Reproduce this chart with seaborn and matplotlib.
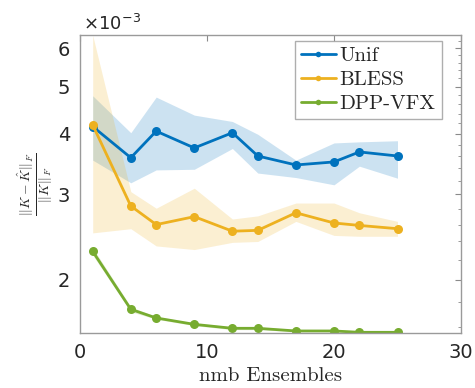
import numpy as np
import pandas as pd
import matplotlib
matplotlib.use('Agg')
import matplotlib.pyplot as plt
import matplotlib.ticker as ticker
import seaborn as sns

# dados (valores em unidades de 1e-3)
ensembles = [1, 4, 6, 9, 12, 14, 17, 20, 22, 25]
methods = ['Unif', 'BLESS', 'DPP-VFX']

unif = [4.14, 3.57, 4.05, 3.74, 4.02, 3.60, 3.45, 3.50, 3.67, 3.60]
unif_low = [3.53, 3.17, 3.37, 3.38, 3.73, 3.32, 3.25, 3.14, 3.43, 3.24]
unif_high = [4.79, 4.02, 4.76, 4.37, 4.24, 3.99, 3.53, 3.83, 3.85, 3.87]

bless = [4.17, 2.84, 2.60, 2.70, 2.52, 2.53, 2.75, 2.62, 2.59, 2.55]
bless_low = [2.50, 2.55, 2.35, 2.31, 2.39, 2.40, 2.64, 2.47, 2.46, 2.46]
bless_high = [6.38, 3.04, 2.81, 3.09, 2.67, 2.71, 2.88, 2.88, 2.75, 2.64]

dpp = [2.29, 1.74, 1.67, 1.62, 1.59, 1.59, 1.57, 1.57, 1.56, 1.56]
dpp_low = [2.25, 1.72, 1.66, 1.61, 1.58, 1.58, 1.565, 1.565, 1.555, 1.555]
dpp_high = [2.33, 1.76, 1.68, 1.63, 1.60, 1.60, 1.58, 1.58, 1.57, 1.57]

colors = {'Unif': '#0072BD', 'BLESS': '#EDB120', 'DPP-VFX': '#77AC30'}

df = pd.DataFrame({
    'ensembles': ensembles * 3,
    'err': unif + bless + dpp,
    'method': ['Unif'] * 10 + ['BLESS'] * 10 + ['DPP-VFX'] * 10,
})

sns.set_style('white')
plt.rcParams['mathtext.fontset'] = 'cm'
plt.rcParams['font.family'] = ['DejaVu Sans']

fig = plt.figure(figsize=(4.75, 3.88), dpi=100)
ax = fig.add_axes([80 / 475, 55 / 388, 381 / 475, 298 / 388])

# faixas
bands = {'Unif': (unif_low, unif_high), 'BLESS': (bless_low, bless_high),
         'DPP-VFX': (dpp_low, dpp_high)}
for m in methods:
    lo, hi = bands[m]
    ax.fill_between(ensembles, lo, hi, color=colors[m], alpha=0.2, linewidth=0)

sns.lineplot(data=df, x='ensembles', y='err', hue='method', palette=colors,
             hue_order=methods, marker='o', markersize=6.5, markeredgewidth=0,
             linewidth=2, errorbar=None, ax=ax)

ax.set_yscale('log')
ax.set_xlim(0, 30)
ax.set_ylim(1.555, 6.39)
ax.set_xticks([0, 10, 20, 30])
ax.yaxis.set_major_locator(ticker.FixedLocator([2, 3, 4, 5, 6]))
ax.yaxis.set_major_formatter(ticker.FixedFormatter(['2', '3', '4', '5', '6']))
ax.yaxis.set_minor_locator(ticker.FixedLocator(np.round(np.arange(1.6, 6.3, 0.2), 1)))
ax.yaxis.set_minor_formatter(ticker.NullFormatter())

for s in ax.spines.values():
    s.set_color('#9a9a9a')
    s.set_linewidth(1.0)
ax.tick_params(which='both', direction='in', top=True, right=True,
               colors='#8a8a8a', labelcolor='#262626', labelsize=14)
ax.tick_params(which='major', length=4.5, width=0.8, pad=7)
ax.tick_params(which='minor', length=2.5, width=0.6)

ax.set_xlabel('nmb Ensembles', fontfamily='cmr10', fontsize=15, color='#262626')
ax.xaxis.set_label_coords(0.5, -0.115)
ax.set_ylabel(r'$\frac{||K-\hat{K}||_F}{||K||_F}$', fontsize=14, color='#262626')
ax.yaxis.set_label_coords(-0.065, 0.5)

fig.text(83 / 475, 1 - 30 / 388, '×10$^{\\mathregular{-3}}$', fontsize=13,
         color='#262626', va='baseline')

handles, labels = ax.get_legend_handles_labels()
leg = ax.legend(handles, methods, loc='upper right', bbox_to_anchor=(0.949, 0.981),
                borderaxespad=0, fancybox=False, edgecolor='#9a9a9a',
                prop={'family': 'cmr10', 'size': 15}, handlelength=1.7,
                handletextpad=0.15, labelspacing=0.25, borderpad=0.3)
leg.get_frame().set_linewidth(1.0)
for h in leg.get_lines():
    h.set_markersize(4)

fig.savefig('out.png', dpi=100)
